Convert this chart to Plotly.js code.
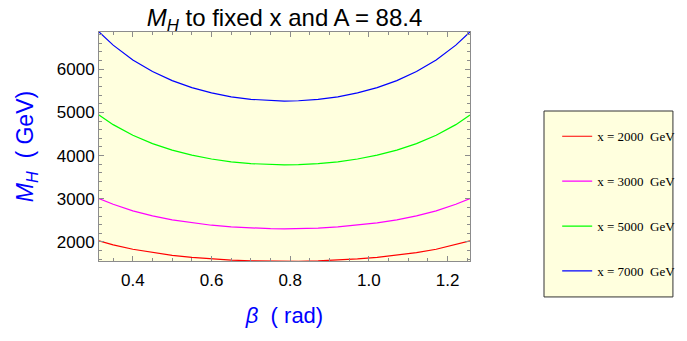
<!DOCTYPE html>
<html>
<head>
<meta charset="utf-8">
<script src="https://cdn.plot.ly/plotly-3.0.1.min.js"></script>
<style>
  html, body { margin: 0; padding: 0; background: #ffffff; }
  #chart { width: 687px; height: 341px; }
</style>
</head>
<body>
<div id="chart"></div>
<script>
const beta = [0.314, 0.35, 0.40, 0.45, 0.50, 0.55, 0.60, 0.65, 0.70, 0.75, 0.785,
              0.821, 0.871, 0.921, 0.971, 1.021, 1.071, 1.121, 1.171, 1.221, 1.257];

// M_H (GeV) for each x
const mhX2000 = [2024, 1934, 1832, 1754, 1692, 1644, 1608, 1581, 1563, 1554, 1552,
                 1554, 1563, 1581, 1608, 1644, 1692, 1754, 1832, 1934, 2024];
const mhX3000 = [3006, 2872, 2721, 2604, 2513, 2442, 2388, 2348, 2322, 2308, 2305,
                 2308, 2322, 2348, 2388, 2442, 2513, 2604, 2721, 2872, 3006];
const mhX5000 = [4937, 4716, 4469, 4277, 4126, 4009, 3921, 3856, 3813, 3790, 3785,
                 3790, 3813, 3856, 3921, 4009, 4126, 4277, 4469, 4716, 4937];
const mhX7000 = [6863, 6556, 6212, 5946, 5736, 5574, 5450, 5360, 5301, 5269, 5262,
                 5269, 5301, 5360, 5450, 5574, 5736, 5946, 6212, 6556, 6863];

const seriesNames = ['x = 2000\u00a0\u00a0GeV', 'x = 3000\u00a0\u00a0GeV',
                     'x = 5000\u00a0\u00a0GeV', 'x = 7000\u00a0\u00a0GeV'];
const seriesValues = [mhX2000, mhX3000, mhX5000, mhX7000];
const seriesColors = ['#ff0000', '#ff00ff', '#00ff00', '#0000ff'];

function drawChart() {
    const data = seriesValues.map((vals, i) => ({
        x: beta,
        y: vals,
        type: 'scatter',
        mode: 'lines',
        name: seriesNames[i],
        legendgroup: 'g' + i,
        line: { color: seriesColors[i], width: 1.2 }
    }));

    const axisStyle = {
        showline: true,
        linecolor: '#8c8c8c',
        linewidth: 1,
        mirror: 'allticks',
        ticks: 'inside',
        ticklen: 5,
        tickcolor: '#8c8c8c',
        showgrid: false,
        zeroline: false,
        automargin: false,
        tickfont: { family: 'Liberation Sans, Arial, sans-serif', size: 17, color: '#000' }
    };

    const layout = {
        width: 687,
        height: 341,
        paper_bgcolor: '#ffffff',
        plot_bgcolor: '#ffffde',
        margin: { l: 99, r: 217, t: 32, b: 80, autoexpand: false },
        title: {
            text: '<i>M</i><sub><i>H</i></sub> to fixed x and A = 88.4',
            font: { family: 'Liberation Sans, Arial, sans-serif', size: 24, color: '#000' },
            x: 0.5, xref: 'paper', xanchor: 'center',
            y: 0.948, yanchor: 'middle'
        },
        xaxis: Object.assign({}, axisStyle, {
            range: [0.314, 1.257],
            dtick: 0.2,
            tick0: 0,
            tickformat: '.1f',
            ticklabelstandoff: 4,
            minor: { dtick: 0.05, ticks: 'inside', ticklen: 3, tickcolor: '#8c8c8c' },
            title: {
                text: '<i>β</i>  ( rad)',
                font: { family: 'Liberation Sans, Arial, sans-serif', size: 22, color: '#0000ff' },
                standoff: 18
            }
        }),
        yaxis: Object.assign({}, axisStyle, {
            range: [1560, 6860],
            dtick: 1000,
            tick0: 0,
            minor: { dtick: 200, ticks: 'inside', ticklen: 3, tickcolor: '#8c8c8c' },
            title: {
                text: '<i>M</i><sub><i>H</i></sub>  ( GeV)',
                font: { family: 'Liberation Sans, Arial, sans-serif', size: 23, color: '#0000ff' },
                standoff: 16
            }
        }),
        // legend frame
        shapes: [{
            type: 'rect', xref: 'paper', yref: 'paper',
            x0: 1.1995, x1: 1.547, y0: -0.157, y1: 0.655,
            fillcolor: '#ffffde',
            line: { color: '#333333', width: 1 },
            layer: 'below'
        }],
        showlegend: true,
        legend: {
            x: 1.235, xanchor: 'left',
            y: 0.61, yanchor: 'top',
            bgcolor: 'rgba(0,0,0,0)',
            borderwidth: 0,
            traceorder: 'grouped',
            tracegroupgap: 25,
            font: { family: 'Liberation Serif, Times New Roman, serif', size: 13, color: '#000' }
        }
    };

    Plotly.newPlot('chart', data, layout, { displayModeBar: false });
}

drawChart();
</script>
</body>
</html>
